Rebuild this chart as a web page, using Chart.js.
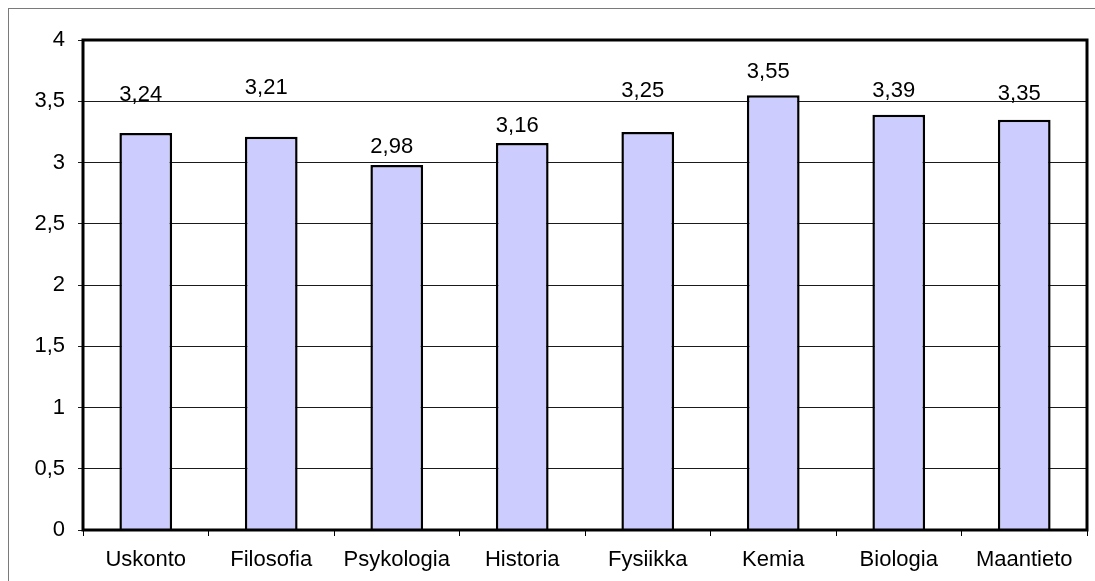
<!DOCTYPE html>
<html>
<head>
<meta charset="utf-8">
<style>
  html, body { margin: 0; padding: 0; background: #fff; }
  #wrap { width: 1095px; height: 581px; position: relative; }
</style>
<script src="https://cdn.jsdelivr.net/npm/chart.js@4/dist/chart.umd.min.js"></script>
</head>
<body>
<div id="wrap"><canvas id="c" width="1095" height="581"></canvas></div>
<script>
// Subject averages
const subjects = ['Uskonto', 'Filosofia', 'Psykologia', 'Historia', 'Fysiikka', 'Kemia', 'Biologia', 'Maantieto'];
const averages = [3.24, 3.21, 2.98, 3.16, 3.25, 3.55, 3.39, 3.35];
const yTicks = [0, 0.5, 1, 1.5, 2, 2.5, 3, 3.5, 4];

// How far (px) each value label sits above its bar top
const labelLift = [38, 49, 18, 17, 41, 23, 24, 26];

const fmt = (v, d) => (d === undefined ? String(v) : v.toFixed(d)).replace('.', ',');
const FONT = '"Liberation Sans", Arial, sans-serif';
const FONT_SIZE = 22;

// Thin grey frame around the whole sheet
const sheetFrame = {
  id: 'sheetFrame',
  beforeDraw(chart) {
    const ctx = chart.ctx;
    ctx.save();
    ctx.strokeStyle = '#7a7a7a';
    ctx.lineWidth = 1;
    ctx.strokeRect(8.5, 8.5, 3000, 3000);
    ctx.restore();
  }
};

// Heavy black border around the plot area
const plotFrame = {
  id: 'plotFrame',
  afterDraw(chart) {
    const a = chart.chartArea, ctx = chart.ctx;
    ctx.save();
    ctx.strokeStyle = '#000';
    ctx.lineWidth = 3;
    ctx.strokeRect(a.left, a.top, a.right - a.left, a.bottom - a.top);
    ctx.restore();
  }
};

// Value labels above the bars
const valueLabels = {
  id: 'valueLabels',
  afterDatasetsDraw(chart) {
    const ctx = chart.ctx;
    const meta = chart.getDatasetMeta(0);
    ctx.save();
    ctx.fillStyle = '#000';
    ctx.font = FONT_SIZE + 'px ' + FONT;
    ctx.textAlign = 'center';
    ctx.textBaseline = 'middle';
    meta.data.forEach((bar, i) => {
      ctx.fillText(fmt(averages[i], 2), bar.x - 5, bar.y - labelLift[i]);
    });
    ctx.restore();
  }
};

new Chart(document.getElementById('c'), {
  type: 'bar',
  data: {
    labels: subjects,
    datasets: [{
      data: averages,
      backgroundColor: '#CCCCFF',
      borderColor: '#000',
      borderWidth: 2.5,
      barPercentage: 0.42,
      categoryPercentage: 1
    }]
  },
  options: {
    responsive: false,
    animation: false,
    devicePixelRatio: 1,
    layout: { padding: { left: 0, top: 40, right: 8, bottom: 0 } },
    plugins: { legend: { display: false }, tooltip: { enabled: false }, title: { display: false } },
    scales: {
      x: {
        grid: { display: true, drawOnChartArea: false, offset: true, color: '#000', lineWidth: 1, tickLength: 6 },
        border: { display: false },
        ticks: { color: '#000', font: { family: FONT, size: FONT_SIZE }, padding: 11, maxRotation: 0 },
        afterFit(s) { s.height = 51; }
      },
      y: {
        min: 0,
        max: 4,
        afterBuildTicks(s) { s.ticks = yTicks.map(v => ({ value: v })); },
        grid: { color: '#1a1a1a', lineWidth: 1, tickLength: 5 },
        border: { display: false },
        ticks: { color: '#000', font: { family: FONT, size: FONT_SIZE }, padding: 13, callback: v => fmt(v) },
        afterFit(s) { s.width = 83; }
      }
    }
  },
  plugins: [sheetFrame, valueLabels, plotFrame]
});
</script>
</body>
</html>
